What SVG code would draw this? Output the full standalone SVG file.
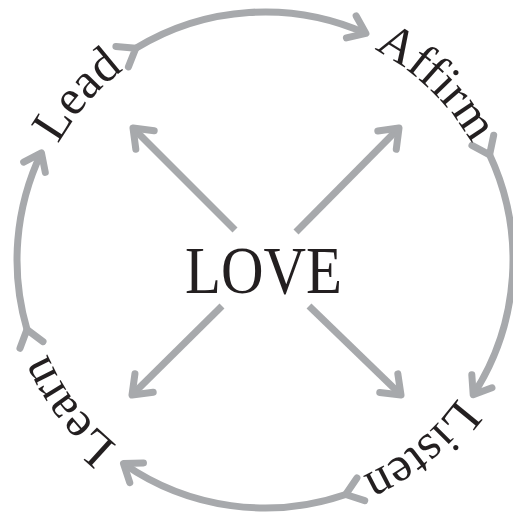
<svg xmlns="http://www.w3.org/2000/svg" xmlns:xlink="http://www.w3.org/1999/xlink" width="513" height="518" viewBox="0 0 513 518">
  <style>
    .conn { fill: none; stroke: #a7a9ac; stroke-width: 7; stroke-linecap: butt; }
    .lbl { font-family: "Liberation Serif", "Times New Roman", serif; font-size: 50px; fill: #231f20; }
    .center { font-family: "Liberation Serif", "Times New Roman", serif; font-size: 68px; fill: #231f20; }
  </style>
  <defs>
    <marker id="chev" markerUnits="userSpaceOnUse" orient="auto" overflow="visible" markerWidth="1" markerHeight="1" refX="0" refY="0">
      <path d="M-16,-12 L0,0 L-16,12" fill="none" stroke="#a7a9ac" stroke-width="7" stroke-linecap="round" stroke-linejoin="round"/>
    </marker>
    <marker id="chevS" markerUnits="userSpaceOnUse" orient="auto" overflow="visible" markerWidth="1" markerHeight="1" refX="0" refY="0">
      <path d="M-17,-13 L0,0 L-17,13" fill="none" stroke="#a7a9ac" stroke-width="7" stroke-linecap="round" stroke-linejoin="round"/>
    </marker>
    <path id="ring" d="M 28 260 A 237 237 0 1 1 502 260 A 237 237 0 1 1 28 260"/>
  </defs>
  <rect width="513" height="518" fill="#ffffff"/>
  <g id="connectors">
    <path class="conn" d="M 135.8 48.3 A 248 248 0 0 1 365.9 33.4" marker-start="url(#chev)" marker-end="url(#chev)"/>
    <path class="conn" d="M 489.6 154.8 A 248 248 0 0 1 473.2 394.7" marker-start="url(#chev)" marker-end="url(#chev)"/>
    <path class="conn" d="M 345.7 494.5 A 248 248 0 0 1 123.5 463.6" marker-start="url(#chev)" marker-end="url(#chev)"/>
    <path class="conn" d="M 27.0 329.6 A 248 248 0 0 1 41.4 152.8" marker-start="url(#chev)" marker-end="url(#chev)"/>
    <path class="conn" d="M 235 230 L 133 128" marker-end="url(#chevS)"/>
    <path class="conn" d="M 296 232 L 399 128" marker-end="url(#chevS)"/>
    <path class="conn" d="M 222 306 L 132 395" marker-end="url(#chevS)"/>
    <path class="conn" d="M 309 306 L 401 395" marker-end="url(#chevS)"/>
  </g>
  <g id="love">
    <text class="center" x="185" y="293" textLength="157" lengthAdjust="spacingAndGlyphs">LOVE</text>
  </g>
  <g id="lead">
    <text class="lbl" text-anchor="middle"><textPath xlink:href="#ring" href="#ring" startOffset="170.8">Lead</textPath></text>
  </g>
  <g id="affirm">
    <text class="lbl" text-anchor="middle"><textPath xlink:href="#ring" href="#ring" startOffset="554.3">Affirm</textPath></text>
  </g>
  <g id="listen">
    <text class="lbl" text-anchor="middle"><textPath xlink:href="#ring" href="#ring" startOffset="953.9">Listen</textPath></text>
  </g>
  <g id="learn">
    <text class="lbl" text-anchor="middle"><textPath xlink:href="#ring" href="#ring" startOffset="1334.3">Learn</textPath></text>
  </g>
</svg>
